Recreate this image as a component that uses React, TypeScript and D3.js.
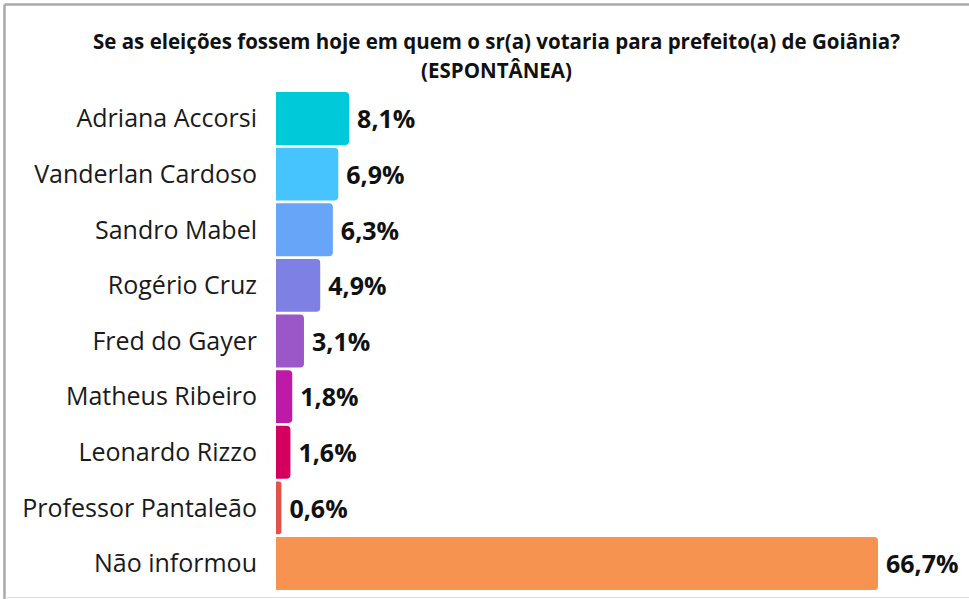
import * as d3 from "d3";
import React from "react";

const names = [
  "Adriana Accorsi",
  "Vanderlan Cardoso",
  "Sandro Mabel",
  "Rogério Cruz",
  "Fred do Gayer",
  "Matheus Ribeiro",
  "Leonardo Rizzo",
  "Professor Pantaleão",
  "Não informou",
];
const values = [8.1, 6.9, 6.3, 4.9, 3.1, 1.8, 1.6, 0.6, 66.7];
const barColors = [
  "#00c9da",
  "#46c4fe",
  "#66a5f7",
  "#7f80e3",
  "#9b57c8",
  "#bd1aa8",
  "#d3005f",
  "#e0524a",
  "#f69351",
];

const W = 969;
const H = 599;
const font = "'Open Sans', 'Noto Sans', sans-serif";

const App = () => {
  const left = 276;
  const x = d3.scaleLinear().domain([0, 66.7]).range([0, 602]);
  const y = d3
    .scaleBand()
    .domain(names)
    .range([91, 591])
    .paddingInner(0.05)
    .paddingOuter(0.02);

  const r = 4;
  // só os cantos da direita arredondados
  const barPath = (w: number, h: number) => {
    const rr = Math.min(r, w / 2);
    return `M0,0 H${w - rr} Q${w},0 ${w},${rr} V${h - rr} Q${w},${h} ${w - rr},${h} H0 Z`;
  };

  return (
    <svg
      width={W}
      height={H}
      style={{ position: "absolute", left: 0, top: 0, background: "#fff" }}
      fontFamily={font}
    >
      <rect x={0} y={0} width={W} height={H} fill="#fff" />
      <line x1={4.5} x2={W} y1={4.5} y2={4.5} stroke="#a8a8a8" strokeWidth={2.5} />
      <line x1={4.5} x2={4.5} y1={4.5} y2={H} stroke="#a8a8a8" strokeWidth={2.5} />
      <line x1={5} x2={W} y1={597.5} y2={597.5} stroke="#e0e0e0" strokeWidth={1} />
      <text
        x={496.5}
        y={49}
        textAnchor="middle"
        fontSize={20.5}
        fontWeight="bold"
        fill="#111"
      >
        Se as eleições fossem hoje em quem o sr(a) votaria para prefeito(a) de Goiânia?
      </text>
      <text
        x={496.5}
        y={78}
        textAnchor="middle"
        fontSize={20.5}
        fontWeight="bold"
        fill="#111"
      >
        (ESPONTÂNEA)
      </text>
      {names.map((n, i) => {
        const by = y(n) as number;
        const bh = y.bandwidth();
        const bw = x(values[i]);
        return (
          <g key={n}>
            <text
              x={257}
              y={by + bh / 2}
              dy="0.35em"
              textAnchor="end"
              fontSize={25}
              fill="#1a1a1a"
            >
              {n}
            </text>
            <path
              transform={`translate(${left},${by})`}
              d={barPath(bw, bh)}
              fill={barColors[i]}
            />
            <text
              x={left + bw + 8}
              y={by + bh / 2 + 1}
              dy="0.35em"
              fontSize={25}
              fontWeight="bold"
              fill="#111"
            >
              {values[i].toFixed(1).replace(".", ",")}%
            </text>
          </g>
        );
      })}
    </svg>
  );
};

export default App;
